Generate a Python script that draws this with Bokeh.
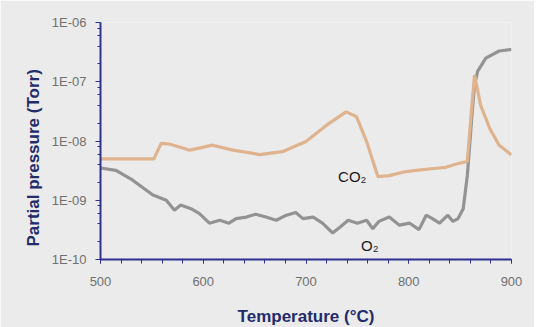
from bokeh.plotting import figure
from bokeh.models import Range1d, SingleIntervalTicker, LogTicker, CustomJSTickFormatter, Label, Title
from bokeh.embed import file_html
from bokeh.resources import INLINE

# CO2 partial pressure (Torr) vs temperature (°C)
co2_temp = [500, 552, 559, 567, 587, 609, 629, 655, 677, 700, 720, 739, 749, 759, 770,
            781, 795, 807, 822, 836, 849, 857, 860, 864, 870, 879, 888, 900]
co2_p = [5.0e-9, 5.0e-9, 9.1e-9, 8.9e-9, 7.0e-9, 8.5e-9, 7.0e-9, 5.9e-9, 6.6e-9, 9.8e-9,
         1.85e-8, 3.1e-8, 2.6e-8, 9.8e-9, 2.5e-9, 2.6e-9, 3.0e-9, 3.2e-9, 3.4e-9, 3.6e-9,
         4.2e-9, 4.5e-9, 2.0e-8, 1.3e-7, 4.0e-8, 1.6e-8, 8.5e-9, 5.8e-9]

# O2 partial pressure (Torr) vs temperature (°C)
o2_temp = [500, 515, 531, 551, 564, 572, 578, 588, 596, 606, 616, 625, 632, 642, 651, 661,
           671, 681, 690, 697, 707, 716, 726, 733, 741, 750, 759, 765, 771, 781, 791, 801,
           810, 817, 823, 830, 838, 843, 848, 853, 857, 862, 864, 867, 875, 888, 900]
o2_p = [3.5e-9, 3.2e-9, 2.2e-9, 1.23e-9, 1.0e-9, 6.8e-10, 8.3e-10, 7.2e-10, 6.0e-10,
        4.1e-10, 4.6e-10, 4.1e-10, 4.9e-10, 5.2e-10, 5.8e-10, 5.2e-10, 4.6e-10, 5.6e-10,
        6.2e-10, 4.9e-10, 5.2e-10, 4.1e-10, 2.8e-10, 3.5e-10, 4.6e-10, 4.1e-10, 4.6e-10,
        3.3e-10, 4.4e-10, 5.2e-10, 3.8e-10, 4.1e-10, 3.2e-10, 5.6e-10, 4.9e-10, 4.1e-10,
        5.6e-10, 4.4e-10, 4.9e-10, 7.2e-10, 2.6e-9, 3.5e-8, 8.7e-8, 1.5e-7, 2.5e-7,
        3.3e-7, 3.5e-7]

BG = "#ebebeb"
AXIS = "#2e3192"
TITLE = "#232b6b"

p = figure(frame_width=411, frame_height=237,
           min_border_left=100, min_border_right=23, min_border_top=22, min_border_bottom=64,
           x_range=Range1d(500, 900), y_range=Range1d(1e-10, 1e-6),
           y_axis_type="log", output_backend="svg", toolbar_location=None,
           background_fill_color=BG, border_fill_color=BG)
p.outline_line_color = None
p.grid.visible = False

p.line(o2_temp, o2_p, line_color="#939393", line_width=3.2)
p.line(co2_temp, co2_p, line_color="#dfb38d", line_width=3.2)

# x axis
xa = p.xaxis[0]
xa.ticker = SingleIntervalTicker(interval=100, num_minor_ticks=5)
xa.axis_line_color = AXIS
xa.axis_line_width = 2
xa.major_tick_line_color = AXIS
xa.minor_tick_line_color = AXIS
xa.major_tick_out = 4
xa.major_tick_in = 0
xa.minor_tick_out = 4
xa.minor_tick_in = 0
xa.major_label_text_font = "Liberation Sans"
xa.major_label_text_font_size = "13px"
xa.major_label_text_color = "#707070"
xa.major_label_standoff = 13
xa.axis_label = "Temperature (°C)"
xa.axis_label_text_font = "Liberation Sans"
xa.axis_label_text_font_size = "17px"
xa.axis_label_text_font_style = "bold"
xa.axis_label_text_color = TITLE
xa.axis_label_standoff = 18

# y axis
ya = p.yaxis[0]
ya.ticker = LogTicker(desired_num_ticks=5)
ya.formatter = CustomJSTickFormatter(code="""
const e = Math.round(Math.log10(tick));
return '1E' + (e < 0 ? '-' : '+') + String(Math.abs(e)).padStart(2, '0');
""")
ya.axis_line_color = AXIS
ya.axis_line_width = 2
ya.major_tick_line_color = AXIS
ya.minor_tick_line_color = AXIS
ya.major_tick_out = 5
ya.major_tick_in = 0
ya.minor_tick_out = 3
ya.minor_tick_in = 0
ya.major_label_text_font = "Liberation Sans"
ya.major_label_text_font_size = "13px"
ya.major_label_text_color = "#707070"
ya.major_label_standoff = 9

p.add_layout(Title(text="Partial pressure (Torr)", align="left", offset=13,
                   text_font="Liberation Sans", text_font_size="17px",
                   text_font_style="bold", text_color=TITLE, standoff=11), "left")

p.add_layout(Label(x=745, y=2.5e-9, text="CO₂", text_align="center",
                   text_baseline="middle", text_font="Liberation Sans",
                   text_font_size="15px", text_color="#1a1a1a"))
p.add_layout(Label(x=762, y=1.7e-10, text="O₂", text_align="center",
                   text_baseline="middle", text_font="Liberation Sans",
                   text_font_size="15px", text_color="#1a1a1a"))

open("out.html", "w").write(file_html(p, INLINE))
